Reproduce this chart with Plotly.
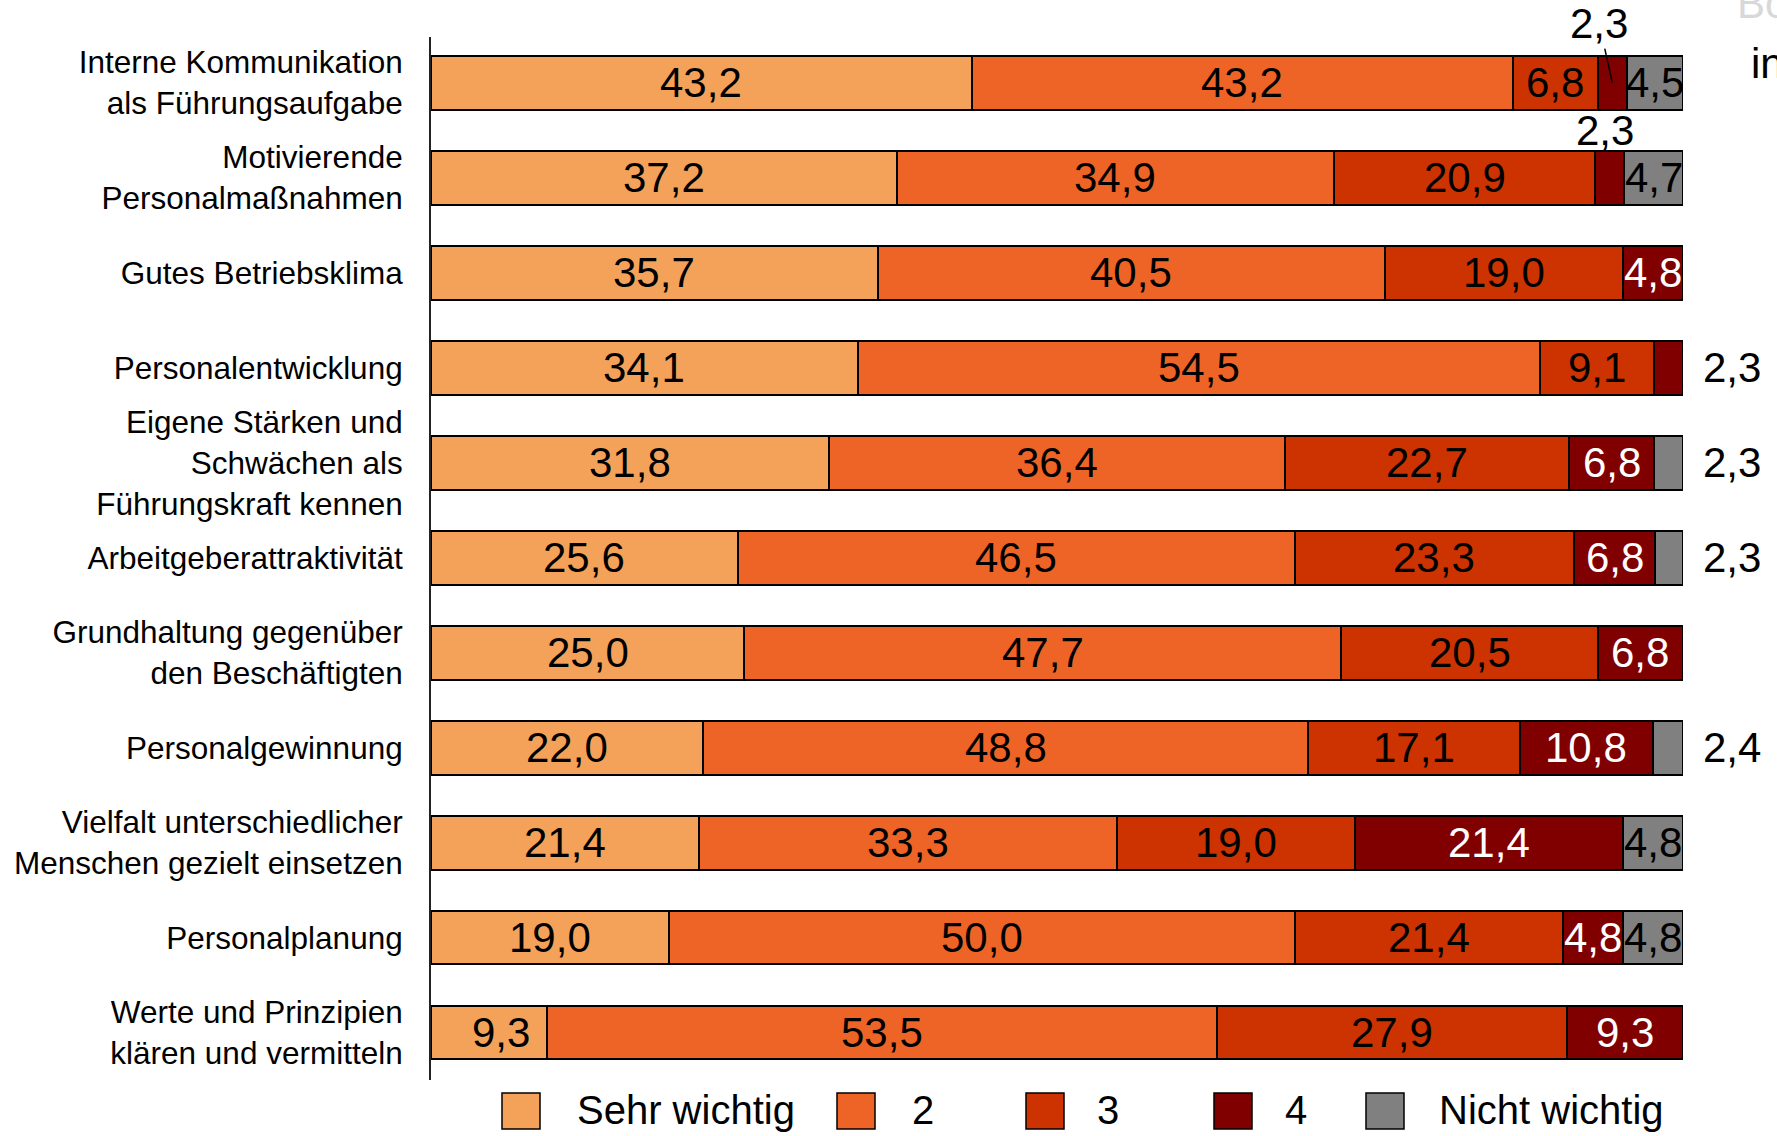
import plotly.graph_objects as go

categories = [
    "Interne Kommunikation<br>als Führungsaufgabe",
    "Motivierende<br>Personalmaßnahmen",
    "Gutes Betriebsklima",
    "Personalentwicklung",
    "Eigene Stärken und<br>Schwächen als<br>Führungskraft kennen",
    "Arbeitgeberattraktivität",
    "Grundhaltung gegenüber<br>den Beschäftigten",
    "Personalgewinnung",
    "Vielfalt unterschiedlicher<br>Menschen gezielt einsetzen",
    "Personalplanung",
    "Werte und Prinzipien<br>klären und vermitteln",
]

series_names = ["Sehr wichtig", "2", "3", "4", "Nicht wichtig"]
sehr_wichtig = [43.2, 37.2, 35.7, 34.1, 31.8, 25.6, 25.0, 22.0, 21.4, 19.0, 9.3]
wert_2 = [43.2, 34.9, 40.5, 54.5, 36.4, 46.5, 47.7, 48.8, 33.3, 50.0, 53.5]
wert_3 = [6.8, 20.9, 19.0, 9.1, 22.7, 23.3, 20.5, 17.1, 19.0, 21.4, 27.9]
wert_4 = [2.3, 2.3, 4.8, 2.3, 6.8, 6.8, 6.8, 10.8, 21.4, 4.8, 9.3]
nicht_wichtig = [4.5, 4.7, None, None, 2.3, 2.3, None, 2.4, 4.8, 4.8, None]
series_values = [sehr_wichtig, wert_2, wert_3, wert_4, nicht_wichtig]

colors = ["#F4A259", "#EE6426", "#CC3300", "#800000", "#808080"]
label_colors = ["black", "black", "black", "white", "black"]

FONT = "Liberation Sans, Arial, sans-serif"

fig = go.Figure()
for name, vals, col in zip(series_names, series_values, colors):
    fig.add_trace(go.Bar(
        y=categories, x=vals, name=name, orientation="h",
        marker=dict(color=col, line=dict(color="black", width=2)),
        width=0.568, showlegend=False, hoverinfo="x+y+name",
    ))

annotations = []
# value labels, placed at the centre of each (normalised) segment
for i, cat in enumerate(categories):
    row = [(s[i] or 0) for s in series_values]
    total = sum(row)
    last_nonzero = max(j for j, v in enumerate(row) if v > 0)
    cum = 0.0
    for j, v in enumerate(row):
        if v <= 0:
            continue
        start = cum / total * 100
        cum += v
        end = cum / total * 100
        centre = (start + end) / 2
        txt = f"{v:.1f}".replace(".", ",")
        if v >= 3:
            # narrow first segments keep their label towards the right edge
            xs = 12 if (j == 0 and v < 10) else 0
            annotations.append(dict(
                x=centre, y=cat, xref="x", yref="y", text=txt, showarrow=False,
                font=dict(family=FONT, size=42, color=label_colors[j]),
                xanchor="center", yanchor="middle", xshift=xs))
        elif j == last_nonzero:
            annotations.append(dict(
                x=100, y=cat, xref="x", yref="y", text=txt, showarrow=False,
                font=dict(family=FONT, size=42, color="black"),
                xanchor="left", yanchor="middle", xshift=18))
        elif i == 0:
            annotations.append(dict(
                x=centre, y=cat, xref="x", yref="y", text=txt, showarrow=True,
                arrowhead=0, arrowwidth=1.5, arrowcolor="black", standoff=0,
                ax=-13, ay=-59,
                font=dict(family=FONT, size=42, color="black")))
        else:
            annotations.append(dict(
                x=centre, y=cat, xref="x", yref="y", text=txt, showarrow=False,
                font=dict(family=FONT, size=42, color="black"),
                xanchor="center", yanchor="middle", xshift=-5, yshift=47))

# manual legend with large squares
PLOT_L, PLOT_W, PLOT_B, PLOT_H = 431, 1252, 1080, 1043
def px_x(p):
    return (p - PLOT_L) / PLOT_W
def px_y(p):
    return (PLOT_B - p) / PLOT_H

legend_sq_left = [502, 837, 1026, 1214, 1366]
legend_txt_left = [575, 910, 1095, 1283, 1437]
shapes = []
for name, col, sx, tx in zip(series_names, colors, legend_sq_left, legend_txt_left):
    shapes.append(dict(type="rect", xref="paper", yref="paper",
                       x0=px_x(sx), x1=px_x(sx + 38), y0=px_y(1129), y1=px_y(1093),
                       fillcolor=col, line=dict(color="black", width=1.5)))
    annotations.append(dict(x=px_x(tx), y=px_y(1110), xref="paper", yref="paper",
                            text=name, showarrow=False, xanchor="left", yanchor="middle",
                            font=dict(family=FONT, size=40, color="black")))

# cropped fragment at top right of the original slide
annotations.append(dict(x=px_x(1749), y=px_y(64), xref="paper", yref="paper", text="in",
                        showarrow=False, xanchor="left", yanchor="middle",
                        font=dict(family=FONT, size=42, color="black")))
annotations.append(dict(x=px_x(1735), y=px_y(4), xref="paper", yref="paper", text="Bo",
                        showarrow=False, xanchor="left", yanchor="middle",
                        font=dict(family=FONT, size=42, color="#d8d8d8")))

fig.update_layout(
    width=1777, height=1136,
    barmode="stack", barnorm="percent",
    paper_bgcolor="white", plot_bgcolor="white",
    margin=dict(l=431, r=94, t=37, b=56, autoexpand=False),
    xaxis=dict(range=[0, 100], visible=False, fixedrange=True),
    yaxis=dict(range=[10.5, -0.48], showline=True, linecolor="#222", linewidth=2,
               showgrid=False, zeroline=False, ticks="", ticklabelstandoff=20,
               tickfont=dict(family=FONT, size=31.5, color="black"),
               automargin=False),
    font=dict(family=FONT, color="black"),
    annotations=annotations, shapes=shapes, showlegend=False,
)

fig.write_html(
    "out.html",
    config={"displayModeBar": False},
    post_script="document.body.style.margin='0px';document.body.style.overflow='hidden';",
)
